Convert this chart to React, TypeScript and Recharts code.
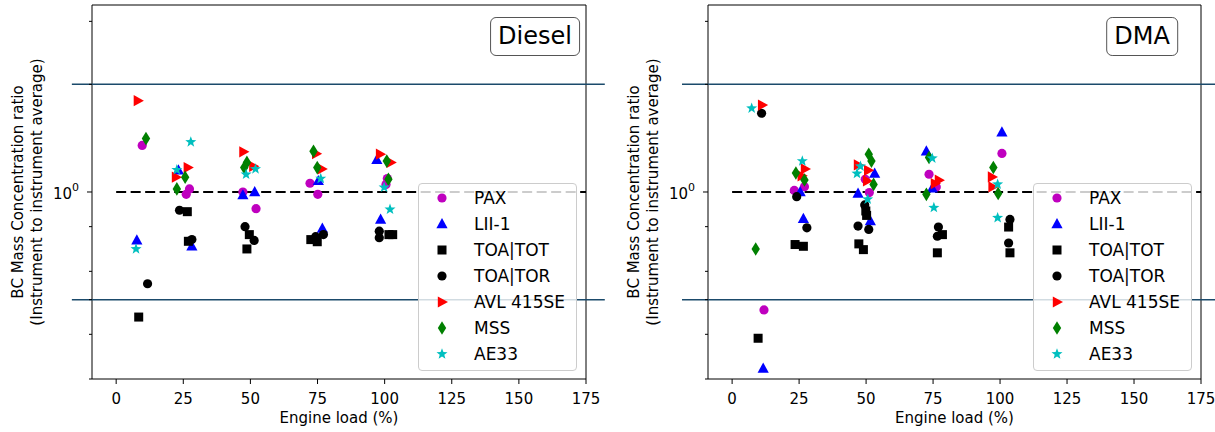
import React from 'react';
import { ScatterChart, Scatter, XAxis, YAxis, ReferenceLine, ReferenceArea } from 'recharts';

// legend order = plotting order
const instruments = ['PAX', 'LII-1', 'TOA|TOT', 'TOA|TOR', 'AVL 415SE', 'MSS', 'AE33'];
const markerKinds = ['o', '^', 's', 'o', '>', 'd', '*'];
const markerColors = ['#bf00bf', '#0000ff', '#000000', '#000000', '#ff0000', '#008000', '#00bfbf'];

const xTicks = [0, 25, 50, 75, 100, 125, 150, 175];
const yTicks = [0.3, 0.4, 0.5, 0.6, 0.7, 0.8, 0.9, 1, 2, 3];
const xDomain = [-9, 175];
const yDomain = [0.3, 3.333];
const limitLines = [2, 0.5];

type Pt = [number, number]; // [engine load %, ratio]

// Diesel
const dieselPAX: Pt[] = [[9.7, 1.35], [27.3, 1.02], [26.1, 0.985], [47.2, 1.0], [52.1, 0.898], [72.2, 1.058], [75.1, 0.985], [101.0, 1.09], [100.5, 1.05]];
const dieselLII: Pt[] = [[7.7, 0.733], [23.2, 1.15], [28.2, 0.705], [47.2, 0.98], [51.6, 1.0], [75.3, 1.074], [76.8, 0.79], [97.1, 1.23], [98.5, 0.838]];
const dieselTOT: Pt[] = [[8.4, 0.447], [26.5, 0.881], [26.9, 0.728], [49.6, 0.76], [48.7, 0.693], [72.5, 0.736], [74.9, 0.726], [101.6, 0.76], [103.0, 0.76]];
const dieselTOR: Pt[] = [[11.7, 0.554], [23.6, 0.889], [28.2, 0.736], [48.0, 0.8], [51.4, 0.732], [74.3, 0.75], [77.2, 0.76], [98.0, 0.777], [98.0, 0.745]];
const dieselAVL: Pt[] = [[8.1, 1.8], [26.7, 1.17], [22.3, 1.1], [47.4, 1.295], [51.1, 1.18], [74.5, 1.28], [76.6, 1.16], [98.3, 1.276], [102.3, 1.21]];
const dieselMSS: Pt[] = [[11.1, 1.41], [25.7, 1.1], [22.6, 1.02], [48.7, 1.21], [47.7, 1.17], [73.5, 1.3], [74.9, 1.17], [100.8, 1.22], [101.4, 1.085]];
const dieselAE33: Pt[] = [[7.4, 0.693], [27.8, 1.38], [22.6, 1.153], [51.9, 1.16], [48.4, 1.12], [76.2, 1.09], [99.8, 1.03], [102.0, 0.894]];

// DMA
const dmaPAX: Pt[] = [[11.9, 0.468], [23.2, 1.01], [27.0, 1.035], [49.7, 1.085], [51.2, 0.996], [73.5, 1.121], [76.2, 1.033], [100.7, 1.282]];
const dmaLII: Pt[] = [[11.6, 0.321], [25.4, 1.0], [26.6, 0.842], [53.2, 1.126], [47.0, 0.99], [51.6, 0.829], [72.5, 1.3], [74.7, 1.024], [100.7, 1.468]];
const dmaTOT: Pt[] = [[9.7, 0.39], [23.5, 0.713], [26.6, 0.705], [49.9, 0.885], [50.2, 0.86], [47.3, 0.716], [49.0, 0.69], [78.5, 0.76], [76.6, 0.676], [103.2, 0.798], [103.7, 0.676]];
const dmaTOR: Pt[] = [[11.0, 1.66], [24.1, 0.97], [27.9, 0.794], [49.5, 0.92], [47.0, 0.803], [51.0, 0.786], [77.0, 0.798], [76.6, 0.752], [103.7, 0.838], [103.2, 0.72]];
const dmaAVL: Pt[] = [[11.2, 1.75], [27.2, 1.16], [26.0, 1.11], [47.0, 1.19], [50.8, 1.15], [50.4, 1.074], [77.2, 1.079], [75.7, 1.056], [97.0, 1.102], [97.2, 1.033]];
const dmaMSS: Pt[] = [[8.8, 0.693], [23.8, 1.13], [27.0, 1.08], [51.0, 1.275], [52.0, 1.22], [52.8, 1.05], [73.5, 1.249], [72.5, 0.985], [97.5, 1.171], [99.3, 0.99]];
const dmaAE33: Pt[] = [[7.3, 1.715], [26.2, 1.22], [47.9, 1.18], [46.6, 1.126], [50.6, 0.954], [74.7, 1.243], [75.3, 0.904], [99.1, 1.051], [99.1, 0.847]];

const dieselSeries = [dieselPAX, dieselLII, dieselTOT, dieselTOR, dieselAVL, dieselMSS, dieselAE33];
const dmaSeries = [dmaPAX, dmaLII, dmaTOT, dmaTOR, dmaAVL, dmaMSS, dmaAE33];

const FONT = '"DejaVu Sans", sans-serif';

const Glyph = ({ cx, cy, kind, color }: { cx: number; cy: number; kind: string; color: string }) => {
  switch (kind) {
    case 'o':
      return <circle cx={cx} cy={cy} r={4.6} fill={color} />;
    case '^':
      return <polygon points={`${cx},${cy - 6} ${cx - 5.6},${cy + 4.2} ${cx + 5.6},${cy + 4.2}`} fill={color} />;
    case 's':
      return <rect x={cx - 4.5} y={cy - 4.5} width={9} height={9} fill={color} />;
    case '>':
      return <polygon points={`${cx + 6},${cy} ${cx - 4.2},${cy - 5.6} ${cx - 4.2},${cy + 5.6}`} fill={color} />;
    case 'd':
      return <polygon points={`${cx},${cy - 6.8} ${cx + 4.2},${cy} ${cx},${cy + 6.8} ${cx - 4.2},${cy}`} fill={color} />;
    default: {
      const pts: string[] = [];
      for (let i = 0; i < 10; i++) {
        const r = i % 2 === 0 ? 5.8 : 2.4;
        const a = -Math.PI / 2 + (i * Math.PI) / 5;
        pts.push(`${cx + r * Math.cos(a)},${cy + r * Math.sin(a)}`);
      }
      return <polygon points={pts.join(' ')} fill={color} />;
    }
  }
};

const YTick = (props: any) => {
  const { x, y, payload } = props;
  const major = payload.value === 1;
  return (
    <g>
      <line x1={x - (major ? 5 : 3)} x2={x} y1={y} y2={y} stroke="#000" strokeWidth={1} />
      {major && (
        <text x={x - 13} y={y + 2} textAnchor="end" dominantBaseline="central" fontSize={15} fill="#000" fontFamily={FONT}>
          10<tspan dy={-7} fontSize={11}>0</tspan>
        </text>
      )}
    </g>
  );
};

interface PanelProps {
  title: string;
  series: Pt[][];
  left: number;
  width: number;
  yAxisWidth: number;
  marginRight: number;
  lineFrom: number;
  legendLeft: number;
}

const Panel = ({ title, series, left, width, yAxisWidth, marginRight, lineFrom, legendLeft }: PanelProps) => {
  const plotLeft = yAxisWidth;
  const plotRight = width - marginRight;
  const midX = (plotLeft + plotRight) / 2;
  const midY = 192;

  return (
    <div style={{ position: 'absolute', left, top: 0, width, height: 432 }}>
      <ScatterChart width={width} height={432} margin={{ top: 5, right: marginRight, bottom: 0, left: 0 }}>
        <XAxis
          type="number"
          dataKey="load"
          domain={xDomain}
          ticks={xTicks}
          allowDataOverflow
          height={53}
          axisLine={false}
          tickSize={5}
          tickMargin={9}
          tickLine={{ stroke: '#000' }}
          tick={{ fill: '#000', fontSize: 15, fontFamily: FONT }}
          label={{
            content: () => (
              <text x={midX} y={418} textAnchor="middle" dominantBaseline="central" fontSize={15} fill="#000" fontFamily={FONT}>
                Engine load (%)
              </text>
            ),
          }}
        />
        <YAxis
          type="number"
          dataKey="ratio"
          scale="log"
          domain={yDomain}
          ticks={yTicks}
          allowDataOverflow
          width={yAxisWidth}
          axisLine={false}
          tickLine={false}
          tickSize={0}
          tickMargin={0}
          tick={<YTick />}
          label={{
            content: () => (
              <g fontSize={15} fill="#000" fontFamily={FONT}>
                <text x={plotLeft - 74} y={midY} textAnchor="middle" dominantBaseline="central" transform={`rotate(-90 ${plotLeft - 74} ${midY})`}>
                  BC Mass Concentration ratio
                </text>
                <text x={plotLeft - 55} y={midY} textAnchor="middle" dominantBaseline="central" transform={`rotate(-90 ${plotLeft - 55} ${midY})`}>
                  (Instrument to instrument average)
                </text>
              </g>
            ),
          }}
        />
        {limitLines.map((v) => (
          <ReferenceLine
            key={v}
            segment={[{ x: lineFrom, y: v }, { x: 182, y: v }]}
            stroke="#1b4a6b"
            strokeWidth={1.5}
            ifOverflow="visible"
          />
        ))}
        <ReferenceLine
          segment={[{ x: 0, y: 1 }, { x: 175, y: 1 }]}
          stroke="#000"
          strokeWidth={2}
          strokeDasharray="10 4.5"
          ifOverflow="visible"
        />
        {series.map((pts, i) => (
          <Scatter
            key={instruments[i]}
            name={instruments[i]}
            data={pts.map(([load, ratio]) => ({ load, ratio }))}
            isAnimationActive={false}
            shape={(p: any) => <Glyph cx={p.cx} cy={p.cy} kind={markerKinds[i]} color={markerColors[i]} />}
          />
        ))}
        <ReferenceArea x1={xDomain[0]} x2={xDomain[1]} y1={yDomain[0]} y2={yDomain[1]} fill="none" stroke="#000" strokeWidth={1} />
      </ScatterChart>

      <div
        style={{
          position: 'absolute',
          left: legendLeft,
          top: 183,
          width: 159,
          height: 188,
          boxSizing: 'border-box',
          background: 'rgba(255,255,255,0.8)',
          border: '1px solid #cccccc',
          borderRadius: 4,
          paddingTop: 1,
          fontFamily: FONT,
          fontSize: 17,
          color: '#000',
        }}
      >
        {instruments.map((name, i) => (
          <div key={name} style={{ position: 'relative', height: 26, lineHeight: '26px' }}>
            <svg width={20} height={20} style={{ position: 'absolute', left: 13, top: 3 }}>
              <Glyph cx={10} cy={10} kind={markerKinds[i]} color={markerColors[i]} />
            </svg>
            <span style={{ position: 'absolute', left: 55, top: 0, whiteSpace: 'nowrap' }}>{name}</span>
          </div>
        ))}
      </div>

      <div
        style={{
          position: 'absolute',
          left: 535,
          top: 17,
          transform: 'translateX(-50%)',
          height: 39,
          boxSizing: 'border-box',
          padding: '0 7px',
          lineHeight: '37px',
          border: '1px solid #555',
          borderRadius: 6,
          background: '#fff',
          fontFamily: FONT,
          fontSize: 24,
          color: '#000',
          whiteSpace: 'nowrap',
        }}
      >
        {title}
      </div>
    </div>
  );
}

export default function App() {
  return (
    <div style={{ position: 'absolute', left: 0, top: 0, width: 1215, height: 432, background: '#fff', overflow: 'hidden' }}>
      <Panel title="Diesel" series={dieselSeries} left={0} width={607} yAxisWidth={92} marginRight={21} lineFrom={-16.5} legendLeft={418} />
      <Panel title="DMA" series={dmaSeries} left={607} width={608} yAxisWidth={101} marginRight={14} lineFrom={-18.7} legendLeft={426} />
    </div>
  );
}
